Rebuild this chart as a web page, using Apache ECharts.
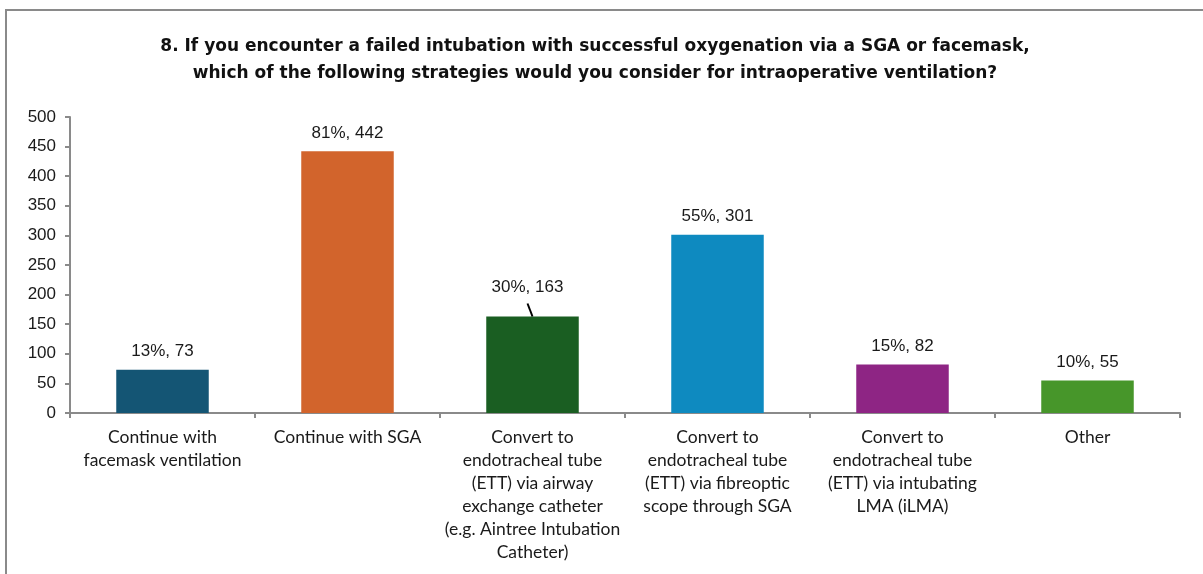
<!DOCTYPE html>
<html><head><meta charset="utf-8">
<script src="https://cdn.jsdelivr.net/npm/echarts@6/dist/echarts.min.js"></script>
<style>html,body{margin:0;padding:0;background:#fff;}#c{width:1203px;height:574px;}</style>
</head><body><div id="c"></div>
<script>
const categories = [
  'Continue with\nfacemask ventilation',
  'Continue with SGA',
  'Convert to\nendotracheal tube\n(ETT) via airway\nexchange catheter\n(e.g. Aintree Intubation\nCatheter)',
  'Convert to\nendotracheal tube\n(ETT) via fibreoptic\nscope through SGA',
  'Convert to\nendotracheal tube\n(ETT) via intubating\nLMA (iLMA)',
  'Other'
];
const counts = [73, 442, 163, 301, 82, 55];
const percents = [13, 81, 30, 55, 15, 10];
const colors = ['#145574', '#D2642C', '#1A5E22', '#0E8AC0', '#8E2584', '#47962A'];
const yTicks = [0, 50, 100, 150, 200, 250, 300, 350, 400, 450, 500];
const movedLabel = 2;

const chart = echarts.init(document.getElementById('c'), null, {renderer: 'canvas'});
const data = counts.map((v, i) => ({value: v, itemStyle: {color: colors[i]}}));
const frame = {
  type: 'rect', shape: {x: 6, y: 10, width: 1300, height: 700},
  style: {fill: 'none', stroke: '#8a8a8a', lineWidth: 2}, silent: true
};
chart.setOption({
  animation: false,
  graphic: [frame],
  title: {
    text: '8. If you encounter a failed intubation with successful oxygenation via a SGA or facemask,\nwhich of the following strategies would you consider for intraoperative ventilation?',
    left: 590, top: 28, textAlign: 'center',
    textStyle: {fontFamily: 'DejaVu Sans', fontWeight: 'bold', fontSize: 17, lineHeight: 27, color: '#111'}
  },
  grid: {left: 70, right: 23, top: 117, bottom: 161, containLabel: false},
  xAxis: {
    type: 'category', data: categories,
    axisLine: {lineStyle: {color: '#8a8a8a', width: 2}},
    axisTick: {show: true, alignWithLabel: false, length: 5, lineStyle: {color: '#8a8a8a', width: 2}},
    axisLabel: {interval: 0, margin: 13, fontFamily: 'Lato', fontSize: 17.5, lineHeight: 23, color: '#1a1a1a', align: 'center'}
  },
  yAxis: {
    type: 'value', min: 0, max: 500, interval: 50,
    axisLine: {show: true, lineStyle: {color: '#8a8a8a', width: 2}},
    axisTick: {show: true, length: 5, lineStyle: {color: '#8a8a8a', width: 2}},
    splitLine: {show: false},
    axisLabel: {margin: 14, fontFamily: 'Liberation Sans', fontSize: 17, color: '#1a1a1a',
      formatter: v => yTicks.includes(v) ? String(v) : ''}
  },
  series: [{
    type: 'bar', data: data, barWidth: '50%',
    label: {
      show: true, position: 'top', distance: 10,
      fontFamily: 'Liberation Sans', fontSize: 17, color: '#1a1a1a',
      formatter: p => percents[p.dataIndex] + '%, ' + p.value
    },
    labelLayout: p => p.dataIndex === movedLabel ? {dx: -5, dy: -11} : {}
  }]
});
const barTop = chart.convertToPixel({xAxisIndex: 0, yAxisIndex: 0}, [movedLabel, counts[movedLabel]]);
chart.setOption({
  graphic: [frame, {
    type: 'line', shape: {x1: barTop[0], y1: barTop[1], x2: barTop[0] - 5, y2: barTop[1] - 13},
    style: {stroke: '#000', lineWidth: 2}, silent: true, z: 10
  }]
});
</script></body></html>
